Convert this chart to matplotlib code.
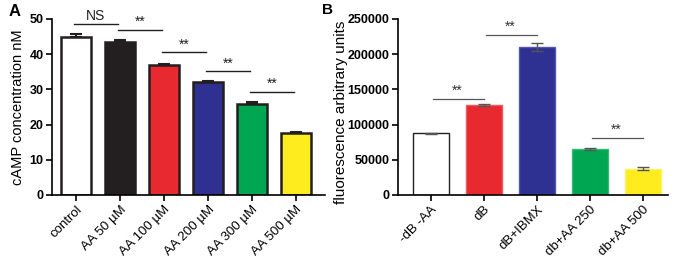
import matplotlib
matplotlib.use('Agg')
import matplotlib.pyplot as plt

plt.rcParams['font.family'] = ['Liberation Sans', 'DejaVu Sans']

# panel A
a_labels = ['control', 'AA 50 µM', 'AA 100 µM', 'AA 200 µM', 'AA 300 µM', 'AA 500 µM']
a_values = [44.8, 43.5, 36.8, 32.2, 25.8, 17.6]
a_errors = [0.8, 0.4, 0.5, 0.3, 0.7, 0.4]
a_colors = ['white', '#231F20', '#E8292F', '#2E3192', '#00A651', '#FFEC1F']
# (start bar, end bar, height, text)
a_sig = [(0, 1, 48.6, 'NS'), (1, 2, 46.9, '**'), (2, 3, 40.6, '**'),
         (3, 4, 35.2, '**'), (4, 5, 29.3, '**')]

# panel B
b_labels = ['-dB -AA', 'dB', 'dB+IBMX', 'db+AA 250', 'db+AA 500']
b_values = [87500, 128000, 210000, 65000, 37500]
b_errors = [500, 1200, 6000, 1000, 2000]
b_colors = ['white', '#E8292F', '#2E3192', '#00A651', '#FFEC1F']
b_edges = ['#231F20', '#F05A5E', '#5558A8', '#3DB874', '#FFF26A']
b_sig = [(0, 1, 136800, '**'), (1, 2, 227000, '**'), (3, 4, 81000, '**')]

fig = plt.figure(figsize=(6.8, 2.66), dpi=100)
axA = fig.add_axes([0.0765, 0.267, 0.4015, 0.662])
axB = fig.add_axes([0.585, 0.267, 0.397, 0.662])

xa = list(range(len(a_values)))
axA.bar(xa, a_values, width=0.68, color=a_colors, edgecolor='#231F20', linewidth=1.8, zorder=2)
axA.errorbar(xa, a_values, yerr=[[0] * len(a_errors), a_errors], fmt='none',
             ecolor='#231F20', elinewidth=1.5, capsize=4, capthick=1.5, zorder=3)
for i, j, h, t in a_sig:
    axA.plot([i - 0.05, j - 0.05], [h, h], color='#231F20', lw=1)
    axA.text((i + j) / 2 - 0.05, h + 0.2, t, ha='center', va='bottom', fontsize=10, color='#231F20')
axA.set_xlim(-0.55, 5.66)
axA.set_ylim(0, 50)
axA.set_yticks([0, 10, 20, 30, 40, 50])
axA.set_xticks(xa)
axA.set_xticklabels(a_labels, rotation=45, ha='right', rotation_mode='anchor', fontsize=9.5)
axA.set_ylabel('cAMP concentration nM', fontsize=10.5, labelpad=3)

xb = list(range(len(b_values)))
axB.bar(xb, b_values, width=0.68, color=b_colors, edgecolor=b_edges, linewidth=1, zorder=2)
axB.errorbar(xb, b_values, yerr=b_errors, fmt='none',
             ecolor='#555555', elinewidth=1, capsize=4, capthick=1, zorder=3)
for i, j, h, t in b_sig:
    axB.plot([i + 0.05, j], [h, h], color='#555555', lw=0.9)
    axB.text((i + j) / 2, h + 1500, t, ha='center', va='bottom', fontsize=10, color='#333333')
axB.set_xlim(-0.62, 4.47)
axB.set_ylim(0, 250000)
axB.set_yticks([0, 50000, 100000, 150000, 200000, 250000])
axB.set_xticks(xb)
axB.set_xticklabels(b_labels, rotation=45, ha='right', rotation_mode='anchor', fontsize=9.5)
axB.set_ylabel('fluorescence arbitrary units', fontsize=11)
axB.yaxis.set_label_coords(-0.183, 0.47)

fig.text(0.012, 0.985, 'A', fontsize=12, fontweight='bold', va='top')
fig.text(0.474, 0.99, 'B', fontsize=11, fontweight='bold', va='top')

for ax in (axA, axB):
    ax.spines['top'].set_visible(False)
    ax.spines['right'].set_visible(False)
    ax.spines['left'].set_linewidth(1.2)
    ax.spines['bottom'].set_linewidth(1.2)
    ax.tick_params(width=1.2, length=4, pad=2)
    for lab in ax.get_yticklabels():
        lab.set_fontweight('bold')
        lab.set_fontsize(9)

fig.savefig('out.png', dpi=100)
